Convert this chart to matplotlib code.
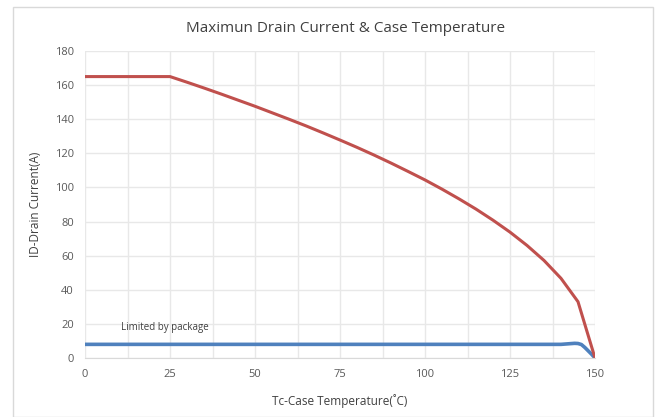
import matplotlib
matplotlib.use("Agg")
import matplotlib.pyplot as plt
from matplotlib.patches import Rectangle
from matplotlib.ticker import MultipleLocator

# Data
temp_red = [0, 25, 30, 35, 40, 45, 50, 55, 60, 65, 70, 75, 80, 85, 90, 95,
            100, 105, 110, 115, 120, 125, 130, 135, 140, 145, 150]
current_red = [165, 165, 161.7, 158.3, 154.8, 151.2, 147.6, 143.8, 140.0, 136.1,
               132.0, 127.8, 123.5, 119.0, 114.3, 109.4, 104.4, 99.0, 93.3, 87.3,
               80.8, 73.8, 66.0, 57.2, 46.7, 33.0, 0]
temp_blue = [0, 25, 50, 75, 100, 125, 140, 142, 144, 145, 146, 147, 148, 149, 150]
current_blue = [8, 8, 8, 8, 8, 8, 8, 8.3, 8.6, 8.5, 7.9, 6.2, 4.2, 2.2, 0]

x_ticks = [0, 25, 50, 75, 100, 125, 150]
y_ticks = [0, 20, 40, 60, 80, 100, 120, 140, 160, 180]

title = "Maximun Drain Current & Case Temperature"
xlabel = "Tc-Case Temperature(\u02daC)"
ylabel = "ID-Drain Current(A)"
note = "Limited by package"

plt.rcParams['font.family'] = ['Open Sans', 'DejaVu Sans']

fig = plt.figure(figsize=(6.61, 4.17), dpi=100)
fig.patches.append(Rectangle((13/661, 0.0), (653-13)/661, 1 - 7/417,
                             transform=fig.transFigure, fill=False,
                             edgecolor='#d9d9d9', linewidth=1.0))

ax = fig.add_axes([85/661, 1 - 358/417, (595-85)/661, (358-51)/417])
ax.set_xlim(0, 150)
ax.set_ylim(0, 180)
ax.set_xticks(x_ticks)
ax.set_yticks(y_ticks)
ax.xaxis.set_minor_locator(MultipleLocator(12.5))
ax.grid(True, which='both', color='#e8e8e8', linewidth=1.0)
ax.set_axisbelow(True)
for s in ['top', 'right', 'left']:
    ax.spines[s].set_visible(False)
ax.spines['bottom'].set_color('#d9d9d9')
ax.tick_params(which='both', length=0, labelsize=8, labelcolor='#595959', pad=8)

ax.plot(temp_blue, current_blue, color='#4f81bd', linewidth=2.6, solid_capstyle='round')
ax.plot(temp_red, current_red, color='#c0504d', linewidth=2.2, solid_capstyle='round')

ax.text(10.5, 16.5, note, fontsize=7, color='#404040')
fig.text(0.5 * (85 + 595) / 661 + 0.008, 1 - 28/417, title, ha='center', va='center',
         fontsize=11, color='#404040')
ax.set_xlabel(xlabel, fontsize=8.5, color='#404040', labelpad=10)
ax.set_ylabel(ylabel, fontsize=8.5, color='#404040', labelpad=9)

fig.savefig("out.png", dpi=100, facecolor='white')
